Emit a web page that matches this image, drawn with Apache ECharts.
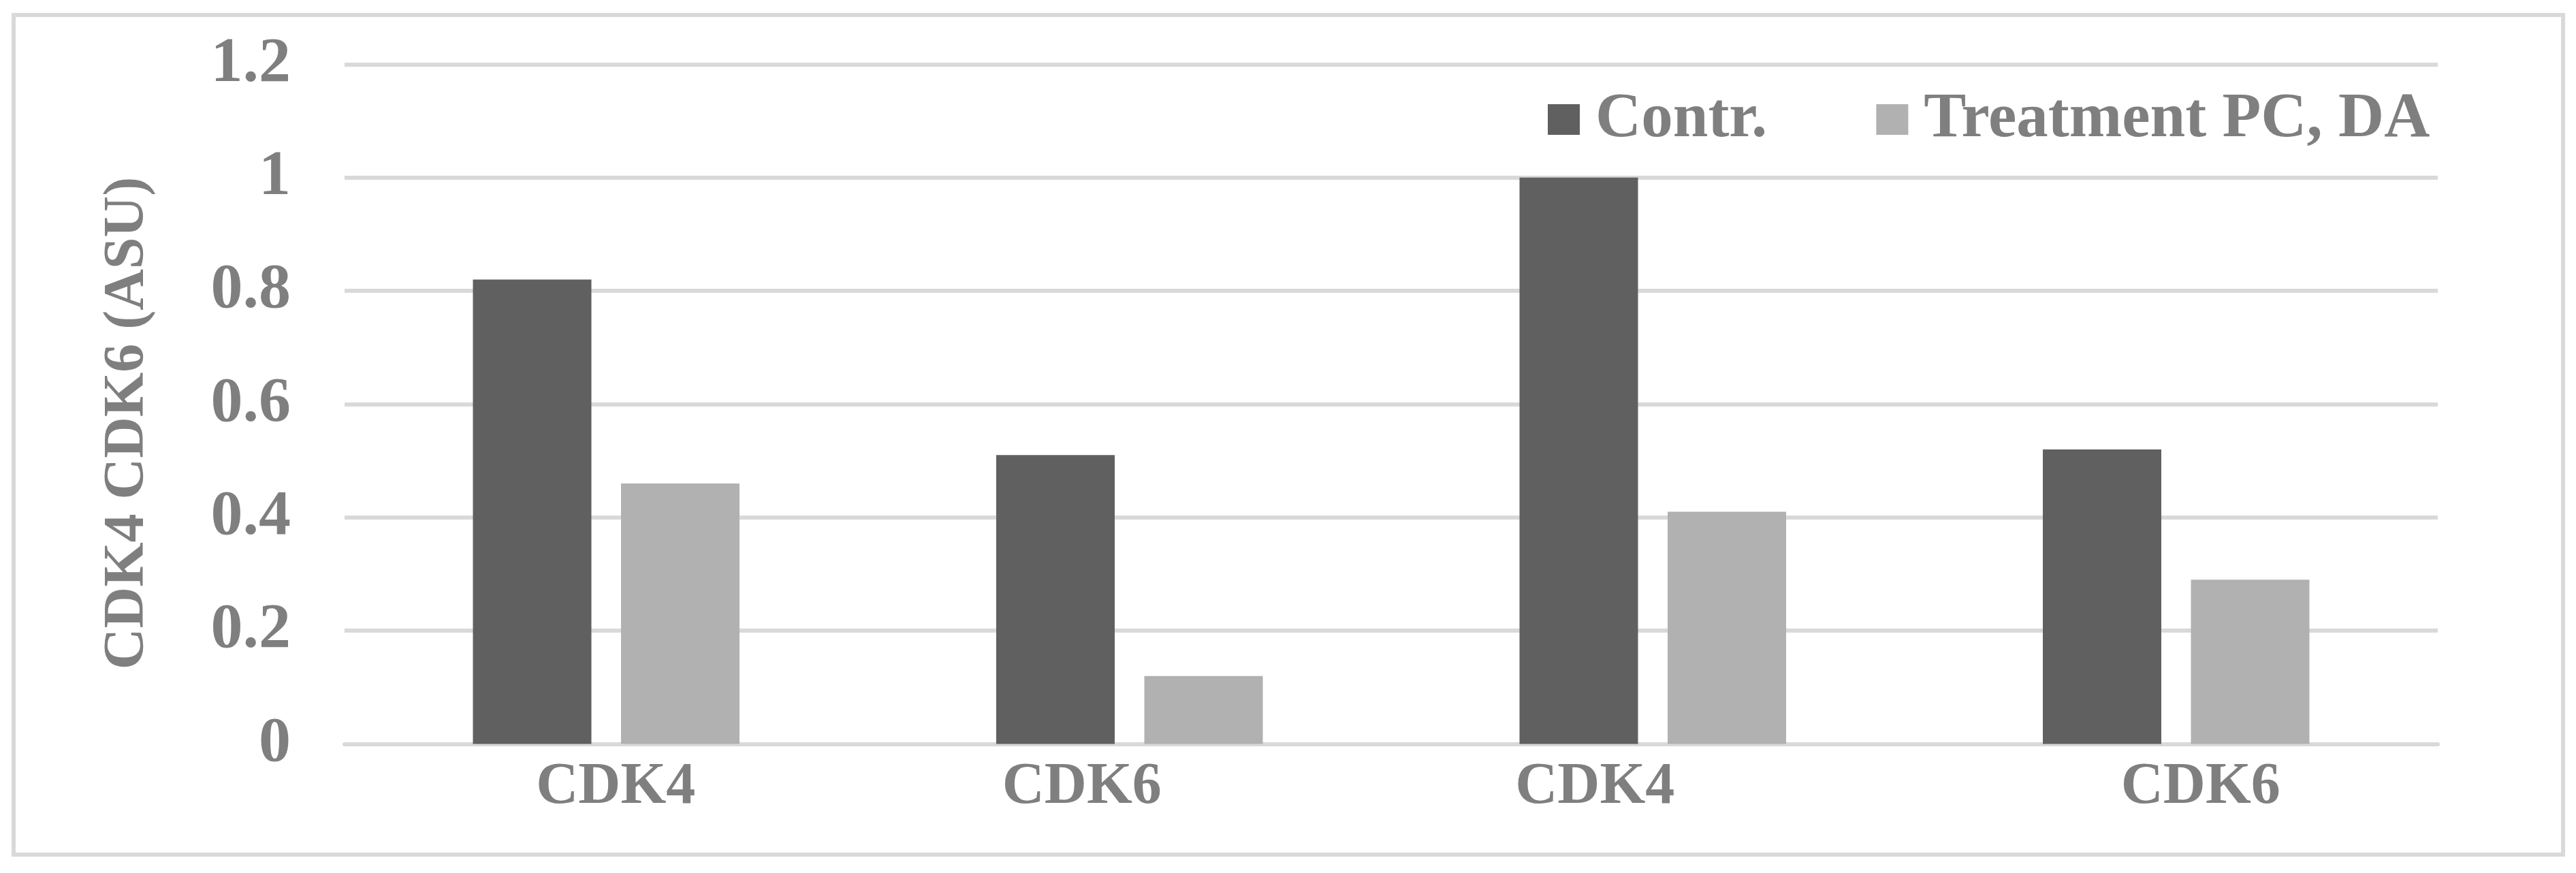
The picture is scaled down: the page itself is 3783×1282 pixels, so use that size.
<!DOCTYPE html>
<html>
<head>
<meta charset="utf-8">
<script src="https://cdn.jsdelivr.net/npm/echarts@6/dist/echarts.min.js"></script>
<style>
  html, body { margin: 0; padding: 0; background: #fff; }
  #chart { width: 3783px; height: 1282px; }
</style>
</head>
<body>
<div id="chart"></div>
<script>
const categories = ['CDK4', 'CDK6', 'CDK4', 'CDK6']
const contr = [0.82, 0.51, 1.0, 0.52]
const treatment = [0.46, 0.12, 0.41, 0.29]
const seriesNames = ['Contr.', 'Treatment PC, DA']
const yTicks = { min: 0, max: 1.2, interval: 0.2 }

// labels in the original sit a little off the category centres
const labelShift = [14, -70, -85, 36]

const grey = '#7f7f7f'
const gridGrey = '#d9d9d9'
const font = "'Liberation Serif', 'Times New Roman', serif"

const rich = {}
labelShift.forEach((s, i) => {
  rich['c' + i] = {
    fontFamily: font, fontSize: 86, fontWeight: 'bold', color: grey,
    padding: s >= 0 ? [0, 0, 0, 2 * s] : [0, -2 * s, 0, 0]
  }
})

const chart = echarts.init(document.getElementById('chart'))

chart.setOption({
  animation: false,
  backgroundColor: '#fff',
  graphic: [{
    type: 'rect',
    shape: { x: 20, y: 22, width: 3744, height: 1233 },
    style: { fill: 'none', stroke: gridGrey, lineWidth: 6 },
    silent: true
  }],
  grid: { left: 506, right: 203, top: 94.5, bottom: 189.5 },
  legend: {
    left: 2268,
    top: 124,
    itemWidth: 47,
    itemHeight: 45,
    itemGap: 160,
    icon: 'rect',
    textStyle: {
      fontFamily: font, fontSize: 93, fontWeight: 'bold', color: grey,
      padding: [0, 0, 0, 18]
    },
    data: seriesNames
  },
  xAxis: {
    type: 'category',
    data: categories,
    axisLine: { show: true, lineStyle: { color: gridGrey, width: 6 } },
    axisTick: { show: false },
    axisLabel: {
      margin: 21,
      formatter: (v, i) => '{c' + i + '|' + v + '}',
      rich
    }
  },
  yAxis: {
    type: 'value',
    min: yTicks.min,
    max: yTicks.max,
    interval: yTicks.interval,
    name: 'CDK4 CDK6 (ASU)',
    nameLocation: 'middle',
    nameGap: 276,
    nameTextStyle: {
      fontFamily: font, fontSize: 84, fontWeight: 'bold', color: grey,
      padding: [0, 56, 0, 0]
    },
    axisLine: { show: false },
    axisTick: { show: false },
    splitLine: { lineStyle: { color: gridGrey, width: 6 } },
    axisLabel: {
      margin: 79,
      fontFamily: font, fontSize: 94, fontWeight: 'bold', color: grey,
      formatter: v => String(Math.round(v * 10) / 10)
    }
  },
  series: [
    {
      name: seriesNames[0],
      type: 'bar',
      data: contr,
      barWidth: 174,
      barGap: '25%',
      itemStyle: { color: '#606060' }
    },
    {
      name: seriesNames[1],
      type: 'bar',
      data: treatment,
      barWidth: 174,
      itemStyle: { color: '#b1b1b1' }
    }
  ]
})
</script>
</body>
</html>
